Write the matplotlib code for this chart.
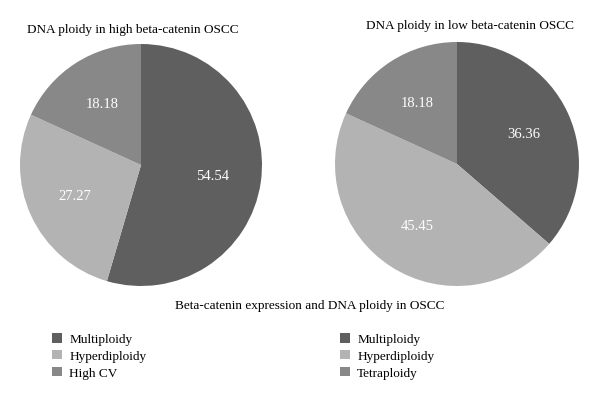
import matplotlib
matplotlib.use("Agg")
from matplotlib import pyplot as plt

plt.rcParams['font.family'] = ['Liberation Serif', 'DejaVu Serif']

# data
categoriesHigh = ["Multiploidy", "Hyperdiploidy", "High CV"]
valuesHigh = [54.54, 27.27, 18.18]
categoriesLow = ["Multiploidy", "Hyperdiploidy", "Tetraploidy"]
valuesLow = [36.36, 45.45, 18.18]
titleHigh = "DNA ploidy in high beta-catenin OSCC"
titleLow = "DNA ploidy in low beta-catenin OSCC"
mainTitle = "Beta-catenin expression and DNA ploidy in OSCC"

colours = ["#5f5f5f", "#b3b3b3", "#888888"]
W, H = 600, 402


def px_axes(fig, cx, cy, r):
    # axes box in pixels (from top-left) -> figure fractions
    return fig.add_axes([(cx - r) / W, (H - cy - r) / H, 2 * r / W, 2 * r / H])


def draw_pie(ax, values):
    # values are shown as given (autopct would renormalise 54.54 -> 54.55)
    wedges, texts = ax.pie(values, colors=colours, startangle=90, counterclock=False,
                           labels=["%.2f" % v for v in values], labeldistance=0.6,
                           textprops=dict(color="white", fontsize=10.5))
    for t in texts:
        t.set_ha("center")
        t.set_va("center")
    ax.set_xlim(-1, 1)
    ax.set_ylim(-1, 1)
    return wedges


fig = plt.figure(figsize=(6, 4.02), dpi=100)

axL = px_axes(fig, 141, 166, 121)
wedgesL = draw_pie(axL, valuesHigh)

axR = px_axes(fig, 457, 165, 122)
wedgesR = draw_pie(axR, valuesLow)

fig.text(133 / W, 1 - 30 / H, titleHigh, ha="center", va="center", fontsize=9.5)
fig.text(470 / W, 1 - 26 / H, titleLow, ha="center", va="center", fontsize=9.5)
fig.text(310 / W, 1 - 306 / H, mainTitle, ha="center", va="center", fontsize=9.5)

legKw = dict(loc="upper left", frameon=False, fontsize=9.5, handlelength=0.75,
             handleheight=0.75, labelspacing=0.33, handletextpad=0.55,
             borderpad=0, borderaxespad=0)
fig.legend(wedgesL, categoriesHigh, bbox_to_anchor=(52 / W, 1 - 334 / H), **legKw)
fig.legend(wedgesR, categoriesLow, bbox_to_anchor=(340 / W, 1 - 334 / H), **legKw)

plt.savefig("out.png", dpi=100)
